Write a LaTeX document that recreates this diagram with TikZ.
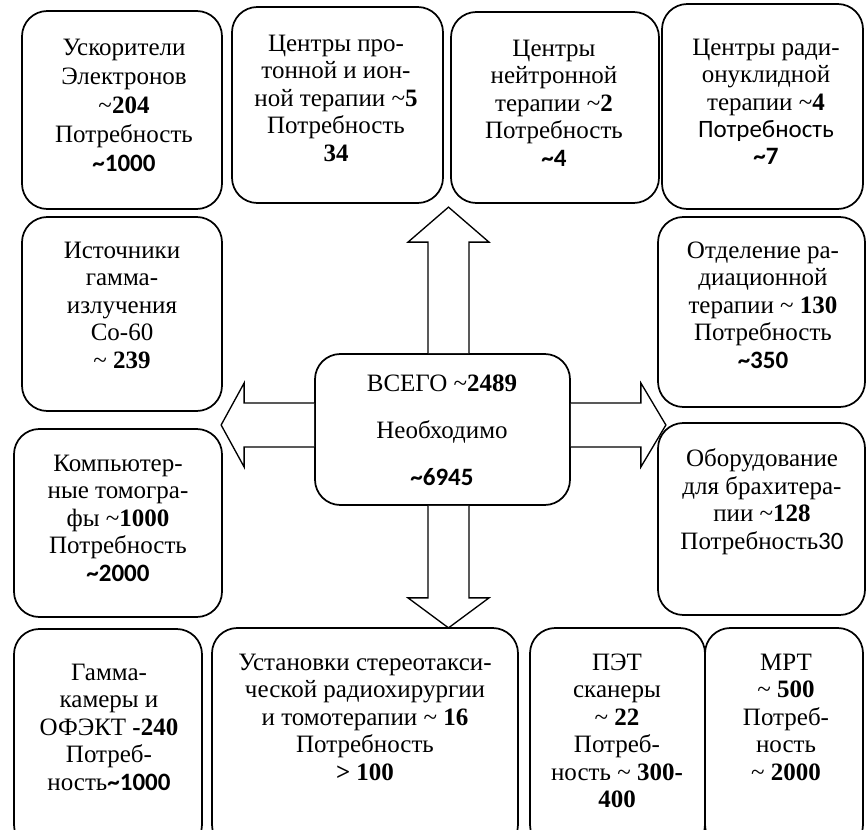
\documentclass[tikz,border=0pt]{standalone}
\usepackage{fontspec}
\usepackage{tikz}
\usetikzlibrary{calc, fit}
\setmainfont{Liberation Serif}
\newfontfamily\calib{Carlito}
\newcommand{\tld}{\textasciitilde}
\definecolor{mydark}{RGB}{0,0,0}
\tikzset{
  box/.style={rectangle, draw=mydark, fill=white, rounded corners=19pt,
    line width=1.3pt, inner sep=0pt},
  txt/.style={anchor=north, inner sep=0pt, align=center,
    font=\fontsize{18.75}{20.6}\selectfont},
  hubtxt/.style={txt, font=\fontsize{18.75}{35.25}\selectfont},
  blockarrow/.style={draw=mydark, fill=white, line width=1pt, line join=miter}
}
\begin{document}
\begin{tikzpicture}[x=0.75pt, y=-0.75pt]
  \path[use as bounding box, fill=white] (0,0) rectangle (866,830);
  \clip (0,0) rectangle (866,830);

  % top row
  \node[box, fit={(22,11) (222,209)}] (acc) {};
  \node[box, fit={(232,7) (443,203)}] (proton) {};
  \node[box, fit={(451,12) (659,203)}] (neutron) {};
  \node[box, fit={(662,4) (863,209)}] (nuclide) {};
  % side columns
  \node[box, fit={(22,217) (222,411)}] (cobalt) {};
  \node[box, fit={(14,429) (222,617)}] (ct) {};
  \node[box, fit={(658,217) (865,407)}] (rtdept) {};
  \node[box, fit={(658,423) (865,615)}] (brachy) {};
  % bottom row
  \node[box, fit={(14,629) (202,850)}] (gcam) {};
  \node[box, fit={(212,628) (518,850)}] (stereo) {};
  \node[box, fit={(530,628) (705,850)}] (pet) {};
  \node[box, fit={(705,628) (863,850)}] (mri) {};
  % centre
  \node[box, fit={(315,354) (570,505)}] (hub) {};

  % block arrows out of the centre
  \draw[blockarrow] ($(hub.north)+(-14.5,0)$) -- ++(0,-111) -- ++(-20,0)
    -- ++(40.5,-35) -- ++(40.5,35) -- ++(-20,0) -- ++(0,111);
  \draw[blockarrow] ($(hub.south)+(-14.5,0)$) -- ++(0,92) -- ++(-20,0)
    -- ++(40.5,30) -- ++(40.5,-30) -- ++(-20,0) -- ++(0,-92);
  \draw[blockarrow] ($(hub.west)+(0,-26.5)$) -- ++(-70,0) -- ++(0,-20)
    -- ++(-23,42) -- ++(23,42) -- ++(0,-20) -- ++(70,0);
  \draw[blockarrow] ($(hub.east)+(0,-26.5)$) -- ++(70,0) -- ++(0,-20)
    -- ++(25,42) -- ++(-25,42) -- ++(0,-20) -- ++(-70,0);

  % texts
  \node[txt, font=\fontsize{18.75}{21.75}\selectfont] (acc-t) at (124,38.5)
    {Ускорители\\Электронов\\\tld\textbf{204}\\Потребность\\{\calib\bfseries\tld 1000}};
  \node[txt] (proton-t) at (336,34.5)
    {Центры про-\\тонной и ион-\\ной терапии \tld\textbf{5}\\Потребность\\\textbf{34}};
  \node[txt] (neutron-t) at (554,39.5)
    {Центры\\нейтронной\\терапии \tld\textbf{2}\\Потребность\\{\calib\bfseries\tld 4}};
  \node[txt] (nuclide-t) at (766,38.5)
    {Центры ради-\\онуклидной\\терапии \tld\textbf{4}\\{\calib Потребность}\\{\calib\bfseries\tld 7}};
  \node[txt] (cobalt-t) at (122,241.5)
    {Источники\\гамма-\\излучения\\Co-60\\\tld{} \textbf{239}};
  \node[txt] (ct-t) at (118,454.5)
    {Компьютер-\\ные томогра-\\фы \tld\textbf{1000}\\Потребность\\{\calib\bfseries\tld 2000}};
  \node[txt] (rtdept-t) at (763,241.5)
    {Отделение ра-\\диационной\\терапии \tld{} \textbf{130}\\Потребность\hspace*{19pt}\\{\calib\bfseries\tld 350}};
  \node[txt] (brachy-t) at (762,448.5)
    {Оборудование\\для брахитера-\\пии \tld\textbf{128}\\Потребность{\calib 30}};
  \node[hubtxt] (hub-t) at (442,374.5)
    {ВСЕГО \tld\textbf{2489}\\Необходимо\\{\calib\bfseries\tld 6945}};
  \node[txt] (gcam-t) at (109,663.5)
    {Гамма-\\камеры и\\ОФЭКТ \textbf{-240}\\Потреб-\\ность{\calib\bfseries\tld 1000}};
  \node[txt] (stereo-t) at (365,653.5)
    {Установки стереотакси-\\ческой радиохирургии\\и томотерапии \tld{} \textbf{16}\\Потребность\\\textbf{> 100}};
  \node[txt] (pet-t) at (617,653.5)
    {ПЭТ\\сканеры\\\tld{} \textbf{22}\\Потреб-\\ность \tld{} \textbf{300-}\\\textbf{400}};
  \node[txt] (mri-t) at (786,653.5)
    {МРТ\\\tld{} \textbf{500}\\Потреб-\\ность\\\tld{} \textbf{2000}};
\end{tikzpicture}
\end{document}
